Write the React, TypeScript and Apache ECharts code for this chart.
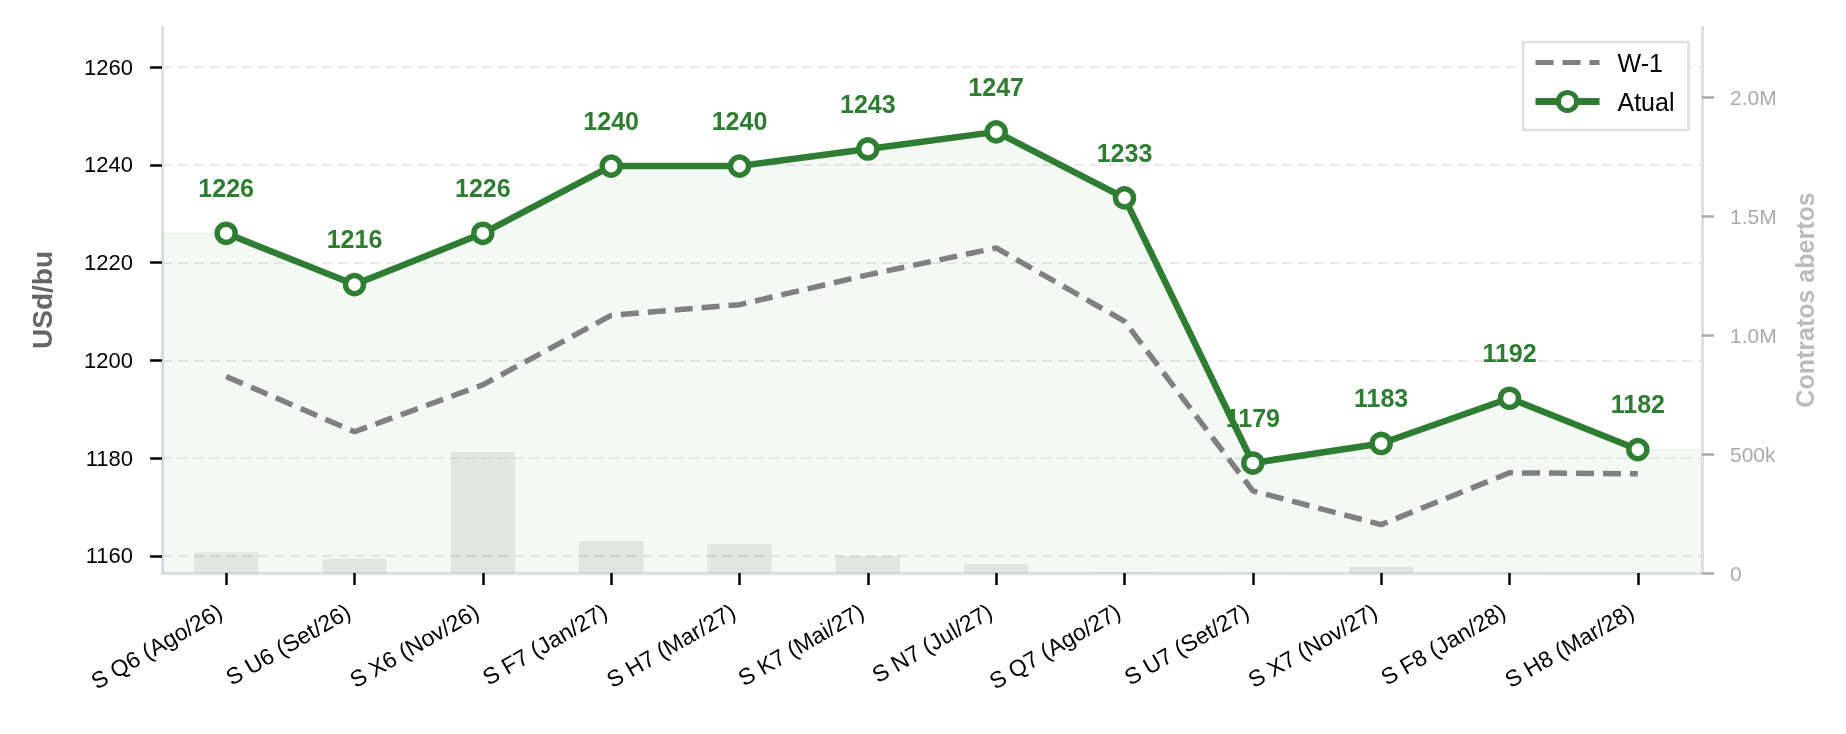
import React, { useEffect, useRef } from 'react';
import * as echarts from 'echarts';

const categories = [
  'S Q6 (Ago/26)', 'S U6 (Set/26)', 'S X6 (Nov/26)', 'S F7 (Jan/27)', 'S H7 (Mar/27)', 'S K7 (Mai/27)',
  'S N7 (Jul/27)', 'S Q7 (Ago/27)', 'S U7 (Set/27)', 'S X7 (Nov/27)', 'S F8 (Jan/28)', 'S H8 (Mar/28)',
];
const atual = [1226, 1215.5, 1226, 1239.75, 1239.75, 1243.25, 1246.75, 1233.25, 1179, 1183, 1192.25, 1181.75];
const semanaAnterior = [1196.7, 1185.4, 1195, 1209.2, 1211.4, 1217.5, 1223, 1208, 1173.3, 1166.4, 1177, 1176.8];
const contratosAbertos = [87000, 60000, 510000, 134000, 122000, 73000, 39000, 3000, 1500, 26000, 1000, 500];
const priceTicks = [1160, 1180, 1200, 1220, 1240, 1260];
const oiTicks = [0, 500000, 1000000, 1500000, 2000000];

const FONT = '"Liberation Sans", Arial, Helvetica, sans-serif';
const GREEN = '#2e7d32';
const GRAY = '#808080';

function fmtOI(v: number): string {
  if (v === 0) return '0';
  if (v >= 1e6) return (v / 1e6).toFixed(1) + 'M';
  return Math.round(v / 1e3) + 'k';
}

export default function App() {
  const ref = useRef<HTMLDivElement>(null);
  useEffect(() => {
    const chart = echarts.init(ref.current!, null, { renderer: 'svg' });
    const n = atual.length;
    const fillData: number[][] = [[-0.5, atual[0]]];
    atual.forEach((v, i) => fillData.push([i, v]));
    fillData.push([n - 0.5, atual[n - 1]]);

    chart.setOption({
      animation: false,
      textStyle: { fontFamily: FONT },
      grid: { left: 162, right: 144, top: 27, bottom: 161, containLabel: false, outerBoundsMode: 'none' },
      legend: {
        data: [
          { name: 'W-1', itemStyle: { opacity: 0 }, lineStyle: { color: GRAY, width: 5, type: [18, 9] } },
          { name: 'Atual', lineStyle: { color: GREEN, width: 7 }, itemStyle: { color: '#ffffff', borderColor: GREEN, borderWidth: 5 } },
        ],
        orient: 'vertical',
        left: 1523,
        top: 42,
        padding: [8, 14, 16, 9],
        itemWidth: 64,
        itemHeight: 22.5,
        itemGap: 14,
        borderColor: '#e0e0e0',
        borderWidth: 2.5,
        backgroundColor: '#ffffff',
        selectedMode: false,
        textStyle: { fontSize: 25, color: '#000', fontFamily: FONT, padding: [0, 0, 0, 13] },
      },
      xAxis: [
        {
          type: 'category',
          data: categories,
          boundaryGap: true,
          axisLine: { show: true, onZero: false, lineStyle: { color: '#e0e0e0', width: 3 } },
          axisTick: { show: true, alignWithLabel: true, length: 12, lineStyle: { color: '#000', width: 2.5 } },
          axisLabel: {
            interval: 0, rotate: 30, fontSize: 23, color: '#000', margin: 33, padding: [0, 7, 0, 0], fontFamily: FONT,
          },
          splitLine: { show: false },
        },
        { type: 'value', min: -0.5, max: n - 0.5, show: false },
      ],
      yAxis: [
        {
          type: 'value',
          position: 'left',
          min: 1156.5,
          max: 1268.2,
          axisLine: { show: true, onZero: false, lineStyle: { color: '#e0e0e0', width: 3 } },
          axisTick: { show: true, length: 12, lineStyle: { color: '#000', width: 2.5 }, customValues: priceTicks },
          axisLabel: {
            customValues: priceTicks, margin: 29, fontSize: 22, color: '#000', fontFamily: FONT,
            formatter: (v: number) => String(v),
          },
          splitLine: { show: true, lineStyle: { color: '#ebebeb', width: 2, type: [10, 6] } },
          name: 'USd/bu',
          nameLocation: 'middle',
          nameRotate: 90,
          nameGap: 106,
          nameTextStyle: { fontSize: 28, fontWeight: 'bold', color: '#666666', fontFamily: FONT },
        },
        {
          type: 'value',
          position: 'right',
          min: 0,
          max: Math.max(...contratosAbertos) * 4.5,
          axisLine: { show: true, onZero: false, lineStyle: { color: '#e0e0e0', width: 3 } },
          axisTick: { show: true, length: 12, lineStyle: { color: '#aaaaaa', width: 2.5 }, customValues: oiTicks },
          axisLabel: { customValues: oiTicks, margin: 28, fontSize: 21, color: '#aaaaaa', formatter: fmtOI, fontFamily: FONT },
          splitLine: { show: false },
          name: 'Contratos abertos',
          nameLocation: 'middle',
          nameRotate: 90,
          nameGap: 90,
          nameTextStyle: { fontSize: 25, fontWeight: 'bold', color: '#bbbbbb', fontFamily: FONT },
        },
      ],
      series: [
        {
          type: 'line',
          name: 'fill',
          xAxisIndex: 1,
          yAxisIndex: 0,
          data: fillData,
          symbol: 'none',
          silent: true,
          lineStyle: { width: 1.5, color: 'rgba(46,125,50,0.07)' },
          areaStyle: { color: 'rgba(46,125,50,0.065)', origin: 'start' },
          z: 1,
        },
        {
          type: 'bar',
          name: 'Contratos abertos',
          xAxisIndex: 0,
          yAxisIndex: 1,
          data: contratosAbertos,
          barWidth: '50%',
          silent: true,
          itemStyle: { color: 'rgba(160,165,160,0.22)' },
          z: 2,
        },
        {
          type: 'line',
          name: 'W-1',
          xAxisIndex: 0,
          yAxisIndex: 0,
          data: semanaAnterior,
          symbol: 'none',
          lineStyle: { color: GRAY, width: 5.5, type: [18, 9] },
          emphasis: { disabled: true },
          z: 3,
        },
        {
          type: 'line',
          name: 'Atual',
          xAxisIndex: 0,
          yAxisIndex: 0,
          data: atual,
          symbol: 'circle',
          symbolSize: 18,
          itemStyle: { color: '#ffffff', borderColor: GREEN, borderWidth: 5.5 },
          lineStyle: { color: GREEN, width: 6.5 },
          emphasis: { disabled: true },
          label: {
            show: true,
            position: 'top',
            distance: 21,
            fontSize: 25,
            fontWeight: 'bold',
            color: GREEN,
            fontFamily: FONT,
            formatter: (p: any) => String(Math.round(p.value)),
          },
          z: 4,
        },
      ],
    });
    return () => chart.dispose();
  }, []);
  return <div ref={ref} style={{ position: 'fixed', left: 0, top: 0, width: 1846, height: 734 }} />;
}
